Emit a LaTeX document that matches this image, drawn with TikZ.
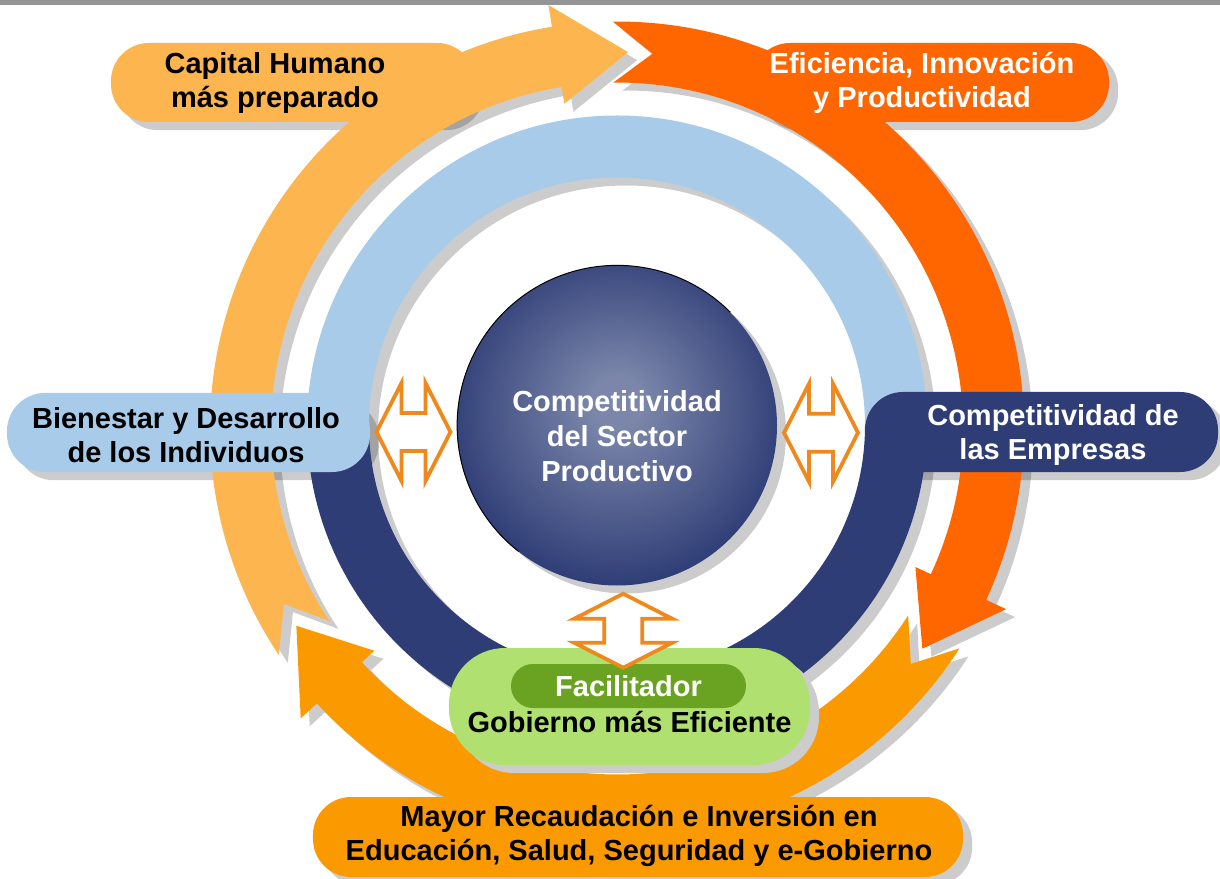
\documentclass[tikz,border=0pt]{standalone}
\usepackage{fontspec}
\setmainfont{Liberation Sans}
\usetikzlibrary{shapes,arrows,backgrounds,positioning,calc,shadows}

\definecolor{ltorange}{HTML}{FDB54F}
\definecolor{dkorange}{HTML}{FF6600}
\definecolor{midorange}{HTML}{FB9A00}
\definecolor{ltblue}{HTML}{A8CBE9}
\definecolor{navy}{HTML}{2E3D76}
\definecolor{sphlight}{HTML}{7B86AA}
\definecolor{ltgreen}{HTML}{B0E070}
\definecolor{dkgreen}{HTML}{6AA321}
\definecolor{arrline}{HTML}{EF891D}
\definecolor{topbar}{HTML}{959595}

\pgfdeclarelayer{shadowlayer}
\pgfsetlayers{shadowlayer,main}

\pgfdeclareradialshading{sphereshade}{\pgfpoint{0bp}{4bp}}{%
  color(0bp)=(sphlight); color(4bp)=(sphlight); color(27bp)=(navy); color(50bp)=(navy)}

% one curved arrow of the outer cycle: style, tail, head base, tip (angles)
\newcommand{\ringarrow}[4]{%
  \fill[#1] (#2:407) arc[start angle=#2,end angle=#3,radius=407]
    -- (#3:429) -- (#4:376.5) -- (#3:329) -- (#3:346)
    arc[start angle=#3,end angle=#2,radius=346] -- ({#2-6}:376.5) -- cycle;}

\tikzset{
  boxshape/.style={rectangle,rounded corners=38pt,minimum height=79pt,inner sep=0pt},
  boxtext/.style={align=center,inner sep=0pt,font=\bfseries\fontsize{29}{34}\selectfont},
  shadowfill/.style={fill=black,opacity=.2},
  dblline/.style={draw=arrline,fill=white,line width=3.8pt},
  dblarrow/.pic={
    \draw[dblline] (-37,0) -- (-12,49) -- (-12,19) -- (12,19) -- (12,49) -- (37,0)
      -- (12,-49) -- (12,-19) -- (-12,-19) -- (-12,-49) -- cycle;}
}

\begin{document}
\begin{tikzpicture}[x=1pt,y=1pt]
  \useasboundingbox (-617,-452.5) rectangle (603,425.5);
  \fill[topbar] (-617,420.5) rectangle (603,425.5);

  % inner ring
  \fill[ltblue] (310,0) arc[start angle=0,end angle=180,radius=310]
    -- (-248,0) arc[start angle=180,end angle=0,radius=248] -- cycle;
  \fill[navy] (-310,0) arc[start angle=180,end angle=360,radius=310]
    -- (248,0) arc[start angle=360,end angle=180,radius=248] -- cycle;

  \node[circle,minimum size=320pt,inner sep=0pt,shading=sphereshade] (sphere) at (0,0) {};
  \draw[black,line width=1pt] (sphere.45) arc[start angle=45,end angle=232,radius=160];
  \node[boxtext,font=\bfseries\fontsize{29}{35}\selectfont,text=white] (sector) at (0,-10.5)
    {Competitividad\\del Sector\\Productivo};

  % outer cycle
  \begin{scope}[shift={(0,-3)}]
    \ringarrow{ltorange}{213.8}{99.2}{88.3}
    \ringarrow{dkorange}{90.6}{-24.9}{-35.8}
    \ringarrow{midorange}{-32.7}{-137.5}{-148.4}
  \end{scope}

  \node[boxshape,minimum width=364pt,fill=ltorange] (capbox) at (-324,343) {};
  \node[boxtext] (capital) at (-342,342.5) {Capital Humano\\más preparado};
  \node[boxshape,minimum width=357pt,fill=dkorange] (efibox) at (313.5,343) {};
  \node[boxtext,text=white] (eficiencia) at (305,342.5) {Eficiencia, Innovación\\y Productividad};
  \node[boxshape,minimum width=363pt,fill=ltblue] (bienbox) at (-428.5,-7) {};
  \node[boxtext] (bienestar) at (-431,-9.5) {Bienestar y Desarrollo\\de los Individuos};
  \node[boxshape,minimum width=353pt,minimum height=80pt,fill=navy] (empbox) at (424.5,-6.5) {};
  \node[boxtext,text=white] (empresas) at (436,-9.5) {Competitividad de\\las Empresas};
  \node[boxshape,minimum width=650pt,minimum height=80pt,fill=midorange] (mayorbox) at (21,-411.5) {};
  \node[boxtext] (mayor) at (22,-410) {Mayor Recaudación e Inversión en\\Educación, Salud, Seguridad y e-Gobierno};

  \node[rectangle,rounded corners=56pt,minimum width=361pt,minimum height=117pt,fill=ltgreen,
    drop shadow={shadow xshift=9pt,shadow yshift=-8pt,fill=black!20,opacity=1}] (facilbox) at (12.5,-281) {};
  \node[rectangle,rounded corners=22pt,minimum width=235pt,minimum height=44pt,fill=dkgreen,
    boxtext,text=white] (facilitador) at (11.5,-260.5) {Facilitador};
  \node[boxtext] (gobierno) at (12.5,-296.5) {Gobierno más Eficiente};

  \pic at ($(bienbox.east)!.5!(sphere.west)+(0,-3)$) {dblarrow};
  \pic at ($(sphere.east)!.5!(empbox.west)+(0,-4)$) {dblarrow};
  \pic[rotate=90] at ($(sphere.south)!.5!(facilbox.north)+(0,-14)$) {dblarrow};

  \begin{pgfonlayer}{shadowlayer}
    \fill[shadowfill,even odd rule] (9,-8) circle[radius=310] (9,-8) circle[radius=248];
    \fill[shadowfill] (9,-8) circle[radius=160];
    \begin{scope}[shift={(9,-11)}]
      \ringarrow{shadowfill}{213.8}{99.2}{88.3}
      \ringarrow{shadowfill}{90.6}{-24.9}{-35.8}
      \ringarrow{shadowfill}{-32.7}{-137.5}{-148.4}
    \end{scope}
    \foreach \b in {capbox,efibox,bienbox,empbox,mayorbox}
      \fill[shadowfill,rounded corners=38pt] ($(\b.south west)+(9,-8)$) rectangle ($(\b.north east)+(9,-8)$);
  \end{pgfonlayer}
\end{tikzpicture}
\end{document}
